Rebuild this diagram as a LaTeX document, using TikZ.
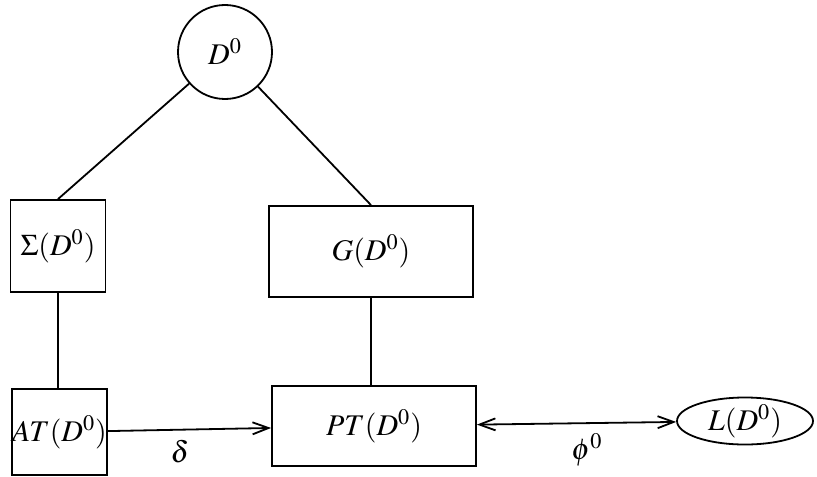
\documentclass[tikz,border=0pt]{standalone}
\usepackage{mathptmx}
\usetikzlibrary{shapes.geometric, arrows.meta}
\begin{document}
\begin{tikzpicture}[x=0.5pt, y=-0.5pt, line width=0.9pt,
    font=\fontsize{15}{17}\selectfont,
    box/.style={draw, rectangle, inner sep=0pt},
    >={Straight Barb[length=8pt, width=6pt]}]
    \useasboundingbox (0,0) rectangle (817,476);

    % Kořen
    \node[draw, circle, minimum size=47pt, inner sep=0pt] (D0) at (225,52) {$D^0$};

    % Levá větev
    \node[box, minimum width=47.5pt, minimum height=46pt] (Sigma) at (58,246) {$\Sigma(D^0)$};
    \node[box, minimum width=47.5pt, minimum height=43pt] (AT) at (59.5,432) {$AT(D^0)$};

    % Pravá větev
    \node[box, minimum width=102pt, minimum height=45.5pt] (G) at (371,251.5) {$G(D^0)$};
    \node[box, minimum width=102pt, minimum height=40pt] (PT) at (374,426) {$PT(D^0)$};

    % Elipsa
    \node[draw, ellipse, minimum width=68pt, minimum height=21pt, inner sep=0pt] (L) at (745,421) {$L(D^0)$};

    % Spojnice
    \draw (D0) -- (Sigma.north);
    \draw (D0) -- (G.north);
    \draw (Sigma.south) -- (Sigma.south |- AT.north);
    \draw (G.south) -- (G.south |- PT.north);

    % Šipky
    \draw[->] (AT) -- (PT);
    \draw[<->] (PT) -- (L);
    \node (delta) at (180,452) {$\delta$};
    \node (phi) at (587,450) {$\phi^0$};
\end{tikzpicture}
\end{document}
